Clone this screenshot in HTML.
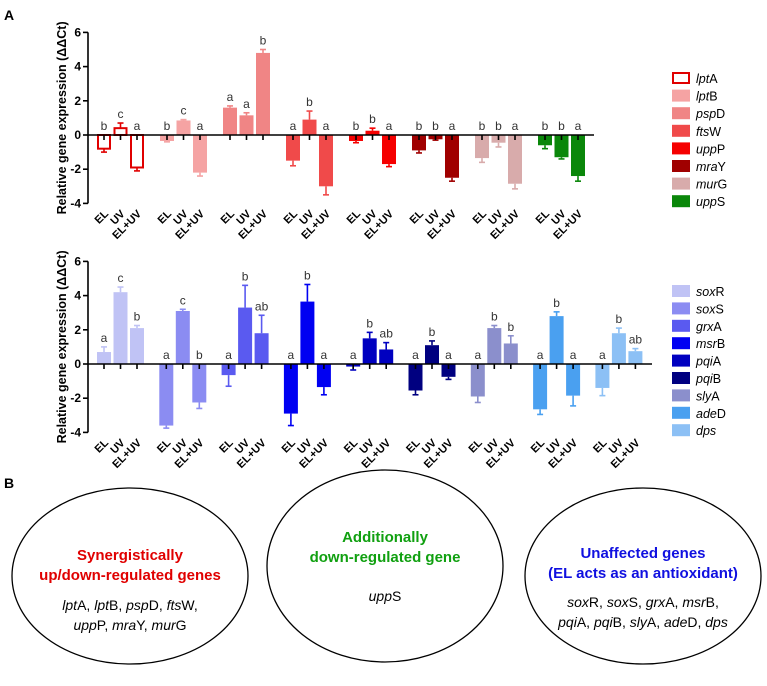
<!DOCTYPE html>
<html><head><meta charset="utf-8"><style>
body{margin:0;background:#fff;}
svg text{font-family:"Liberation Sans",sans-serif;}
</style></head><body>
<svg id="fig" width="767" height="681" viewBox="0 0 767 681" xmlns="http://www.w3.org/2000/svg">
<text x="4" y="20" font-size="14" font-weight="bold">A</text>
<text x="4" y="488" font-size="14" font-weight="bold">B</text>
<g id="top"></g>
<g id="bot"></g>
<g>
<ellipse cx="130" cy="576" rx="118" ry="88" fill="none" stroke="#000" stroke-width="1.3"/>
<ellipse cx="385" cy="566" rx="118" ry="96" fill="none" stroke="#000" stroke-width="1.3"/>
<ellipse cx="643" cy="576" rx="118" ry="88" fill="none" stroke="#000" stroke-width="1.3"/>
<text x="130" y="560" font-size="15" font-weight="bold" fill="#e00000" text-anchor="middle"><tspan x="130">Synergistically</tspan><tspan x="130" dy="20">up/down-regulated genes</tspan></text>
<text x="130" y="610" font-size="14" text-anchor="middle"><tspan x="130"><tspan font-style="italic">lpt</tspan>A, <tspan font-style="italic">lpt</tspan>B, <tspan font-style="italic">psp</tspan>D, <tspan font-style="italic">fts</tspan>W,</tspan><tspan x="130" dy="20"><tspan font-style="italic">upp</tspan>P, <tspan font-style="italic">mra</tspan>Y, <tspan font-style="italic">mur</tspan>G</tspan></text>
<text x="385" y="542" font-size="15" font-weight="bold" fill="#10a010" text-anchor="middle"><tspan x="385">Additionally</tspan><tspan x="385" dy="20">down-regulated gene</tspan></text>
<text x="385" y="601" font-size="14" text-anchor="middle"><tspan font-style="italic">upp</tspan>S</text>
<text x="643" y="558" font-size="15" font-weight="bold" fill="#1010e0" text-anchor="middle"><tspan x="643">Unaffected genes</tspan><tspan x="643" dy="20">(EL acts as an antioxidant)</tspan></text>
<text x="643" y="607" font-size="14" text-anchor="middle"><tspan x="643"><tspan font-style="italic">sox</tspan>R, <tspan font-style="italic">sox</tspan>S, <tspan font-style="italic">grx</tspan>A, <tspan font-style="italic">msr</tspan>B,</tspan><tspan x="643" dy="20"><tspan font-style="italic">pqi</tspan>A, <tspan font-style="italic">pqi</tspan>B, <tspan font-style="italic">sly</tspan>A, <tspan font-style="italic">ade</tspan>D, <tspan font-style="italic">dps</tspan></tspan></text>
</g>
</svg>
<script>
const conds=["EL","UV","EL+UV"];
const yTicks=[6,4,2,0,-2,-4];
const topGenes=[["lpt","A"],["lpt","B"],["psp","D"],["fts","W"],["upp","P"],["mra","Y"],["mur","G"],["upp","S"]];
const topColors=["none","#f5a3a3","#f08585","#f04a4a","#f50000","#a00000","#d8abab","#0a870a"];
const topVals=[[-0.8,0.4,-1.9],[-0.35,0.85,-2.2],[1.6,1.15,4.8],[-1.5,0.9,-3.0],[-0.35,0.25,-1.7],[-0.9,-0.25,-2.5],[-1.35,-0.45,-2.85],[-0.6,-1.3,-2.4]];
const topErr=[[0.2,0.3,0.2],[0.05,0.05,0.2],[0.1,0.15,0.2],[0.3,0.5,0.5],[0.1,0.15,0.15],[0.15,0.05,0.2],[0.25,0.25,0.3],[0.2,0.1,0.3]];
const topLetters=[["b","c","a"],["b","c","a"],["a","a","b"],["a","b","a"],["b","b","a"],["b","b","a"],["b","b","a"],["b","b","a"]];
const botGenes=[["sox","R"],["sox","S"],["grx","A"],["msr","B"],["pqi","A"],["pqi","B"],["sly","A"],["ade","D"],["dps",""]];
const botColors=["#c0c3f5","#8b8cf2","#5a5af0","#0000f2","#0000c0","#000080","#8b8fcc","#4aa0f0","#8cc0f5"];
const botVals=[[0.7,4.2,2.1],[-3.6,3.1,-2.25],[-0.65,3.3,1.8],[-2.9,3.65,-1.35],[-0.15,1.5,0.85],[-1.55,1.1,-0.75],[-1.9,2.1,1.2],[-2.65,2.8,-1.85],[-1.4,1.8,0.75]];
const botErr=[[0.3,0.3,0.15],[0.15,0.1,0.35],[0.65,1.3,1.05],[0.7,1.0,0.45],[0.2,0.35,0.4],[0.25,0.25,0.15],[0.35,0.15,0.45],[0.3,0.25,0.6],[0.45,0.3,0.15]];
const botLetters=[["a","c","b"],["a","c","b"],["a","b","ab"],["a","b","a"],["a","b","ab"],["a","b","a"],["a","b","b"],["a","b","a"],["a","b","ab"]];
const NS="http://www.w3.org/2000/svg";
function mk(parent,tag,attrs){const e=document.createElementNS(NS,tag);for(const k in attrs)e.setAttribute(k,attrs[k]);parent.appendChild(e);return e;}
function chart(gid,cfg){
  const g=document.getElementById(gid);
  const y=v=>cfg.y0-v*cfg.unit;
  const axX=88;
  mk(g,"line",{x1:axX,y1:y(6),x2:axX,y2:y(-4),stroke:"#000","stroke-width":1.6});
  yTicks.forEach(t=>{
    mk(g,"line",{x1:axX-5,y1:y(t),x2:axX,y2:y(t),stroke:"#000","stroke-width":1.6});
    const tx=mk(g,"text",{x:axX-7,y:y(t)+4,"font-size":12,"font-weight":"bold","text-anchor":"end"});
    tx.textContent=t;
    
    
  });
  const yt=mk(g,"text",{x:0,y:0,"font-size":12.5,"font-weight":"bold","text-anchor":"middle",transform:`translate(66,${y(1)}) rotate(-90)`});
  yt.textContent="Relative gene expression (ΔΔCt)";
  
  
  const bw=14, step=16.5;
  cfg.vals.forEach((grp,gi)=>{
    grp.forEach((v,ci)=>{
      const cx=cfg.x0+gi*cfg.gstep+ci*step;
      const col=cfg.colors[gi];
      const outline=col==="none";
      const top=Math.min(y(v),y(0)), h=Math.abs(y(v)-y(0));
      const ev=v+(v>=0?1:-1)*cfg.err[gi][ci];
      const el=mk(g,"line",{x1:cx,y1:y(v),x2:cx,y2:y(ev),stroke:outline?"#e00000":col,"stroke-width":1.6});
      
      
      mk(g,"line",{x1:cx-3,y1:y(ev),x2:cx+3,y2:y(ev),stroke:outline?"#e00000":col,"stroke-width":1.6});
      const r=mk(g,"rect",outline?{x:cx-bw/2+1,y:top,width:bw-2,height:h,fill:"#fff",stroke:"#e00000","stroke-width":2}:{x:cx-bw/2,y:top,width:bw,height:h,fill:col});
      
      
      mk(g,"line",{x1:cx,y1:y(0),x2:cx,y2:y(0)+5,stroke:"#000","stroke-width":1.6});
      const ly=Math.min(y(Math.max(v,ev,0)),y(0))-5;
      const lt=mk(g,"text",{x:cx,y:ly,"font-size":12,"text-anchor":"middle",fill:"#333"});
      lt.textContent=cfg.letters[gi][ci];
      
      
      const xl=mk(g,"text",{x:0,y:0,"font-size":11,"font-weight":"bold","text-anchor":"end",transform:`translate(${cx+5},${y(-4)+11}) rotate(-45)`});
      xl.textContent=conds[ci];
      
      
    });
  });
  mk(g,"line",{x1:axX,y1:y(0),x2:cfg.xEnd,y2:y(0),stroke:"#000","stroke-width":1.6});
  cfg.genes.forEach((gn,i)=>{
    const ly=cfg.legY+i*cfg.legStep;
    const col=cfg.colors[i];
    const b=mk(g,"rect",col==="none"?{x:673,y:ly-5,width:16,height:10,fill:"#fff",stroke:"#e00000","stroke-width":2}:{x:672,y:ly-6,width:18,height:12,fill:col});
    
    
    const t=mk(g,"text",{x:696,y:ly+5,"font-size":12.5});
    
    
    const a=mk(t,"tspan",{"font-style":"italic"});a.textContent=gn[0];
    const c=mk(t,"tspan",{});c.textContent=gn[1];
  });
}
chart("top",{y0:135,unit:17.1,x0:104,gstep:63,xEnd:594,vals:topVals,err:topErr,letters:topLetters,colors:topColors,genes:topGenes,legY:78,legStep:17.6});
chart("bot",{y0:364,unit:17.1,x0:104,gstep:62.3,xEnd:652,vals:botVals,err:botErr,letters:botLetters,colors:botColors,genes:botGenes,legY:291,legStep:17.4});
</script>
</body></html>
